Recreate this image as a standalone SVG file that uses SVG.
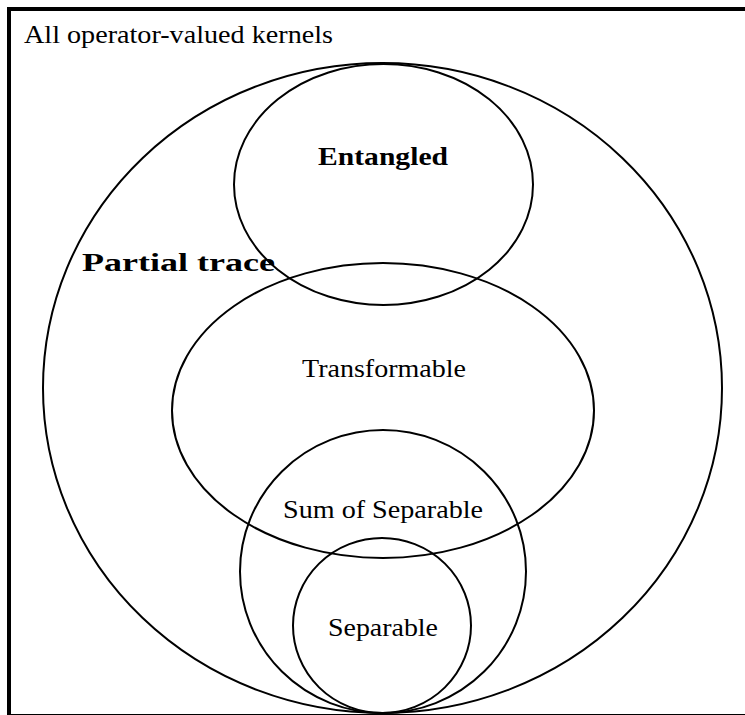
<svg xmlns="http://www.w3.org/2000/svg" width="745" height="715" viewBox="0 0 745 715">
<style>
.set{fill:none;stroke:#000;stroke-width:2}
.lbl{font-family:"Liberation Serif","DejaVu Serif",serif;font-size:26px;fill:#000}
.b{font-weight:bold}
</style>
<rect x="0" y="0" width="745" height="715" fill="#fff"/>
<rect id="frame" x="9" y="9" width="740" height="707" fill="none" stroke="#000" stroke-width="4"/>
<text class="lbl" x="24" y="43" textLength="309" lengthAdjust="spacingAndGlyphs">All operator-valued kernels</text>
<g id="partial-trace">
<ellipse class="set" cx="382.5" cy="388" rx="339.5" ry="325"/>
<text class="lbl b" x="82" y="271" textLength="193" lengthAdjust="spacingAndGlyphs">Partial trace</text>
</g>
<g id="entangled">
<ellipse class="set" cx="383.5" cy="184.5" rx="149.5" ry="120.5"/>
<text class="lbl b" x="318" y="165" textLength="130" lengthAdjust="spacingAndGlyphs">Entangled</text>
</g>
<g id="transformable">
<ellipse class="set" cx="383" cy="410.5" rx="211" ry="147.5"/>
<text class="lbl" x="302" y="377" textLength="164" lengthAdjust="spacingAndGlyphs">Transformable</text>
</g>
<g id="sum-of-separable">
<ellipse class="set" cx="383" cy="571.5" rx="143" ry="141.5"/>
<text class="lbl" x="283" y="518" textLength="200" lengthAdjust="spacingAndGlyphs">Sum of Separable</text>
</g>
<g id="separable">
<ellipse class="set" cx="382" cy="625.5" rx="89" ry="87.5"/>
<text class="lbl" x="328" y="636" textLength="110" lengthAdjust="spacingAndGlyphs">Separable</text>
</g>
<g id="connectors"/>
</svg>
